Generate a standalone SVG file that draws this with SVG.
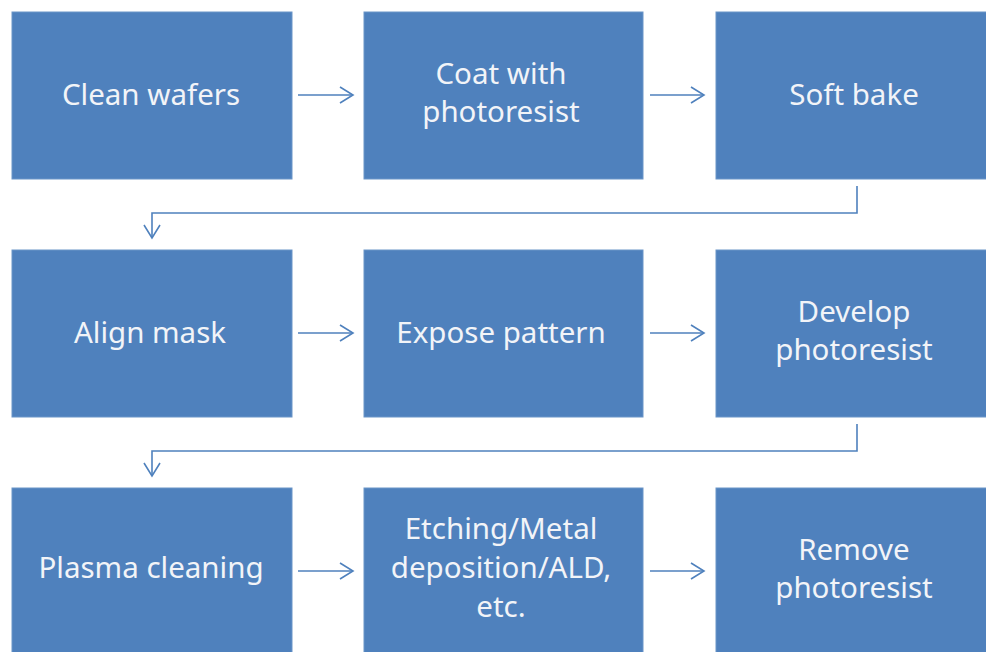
<svg xmlns="http://www.w3.org/2000/svg" width="986" height="652" viewBox="0 0 986 652">
<defs>
<style>
.box{fill:#4F81BD;stroke:#6B95C8;stroke-width:1}
.t{font-family:"Noto Sans","Open Sans",sans-serif;font-size:29.5px;fill:#F2F4F8;text-anchor:middle}
.c{fill:none;stroke:#4F81BD;stroke-width:1.6}
</style>
<marker id="ah" markerWidth="18" markerHeight="18" refX="14" refY="9" orient="auto" markerUnits="userSpaceOnUse">
<path d="M1,1 L14,9 L1,17" fill="none" stroke="#4F81BD" stroke-width="1.6"/>
</marker>
</defs>
<rect width="986" height="652" fill="#FFFFFF"/>
<g id="n1"><rect class="box" x="12" y="12" width="280" height="167"/><text class="t" x="151" y="105">Clean wafers</text></g>
<g id="n2"><rect class="box" x="364" y="12" width="279" height="167"/><text class="t" x="501" y="84">Coat with</text><text class="t" x="501" y="122">photoresist</text></g>
<g id="n3"><rect class="box" x="716" y="12" width="280" height="167"/><text class="t" x="854" y="105">Soft bake</text></g>
<g id="n4"><rect class="box" x="12" y="250" width="280" height="167"/><text class="t" x="150" y="343">Align mask</text></g>
<g id="n5"><rect class="box" x="364" y="250" width="279" height="167"/><text class="t" x="501" y="343">Expose pattern</text></g>
<g id="n6"><rect class="box" x="716" y="250" width="280" height="167"/><text class="t" x="854" y="322">Develop</text><text class="t" x="854" y="360">photoresist</text></g>
<g id="n7"><rect class="box" x="12" y="488" width="280" height="170"/><text class="t" x="151" y="578">Plasma cleaning</text></g>
<g id="n8"><rect class="box" x="364" y="488" width="279" height="170"/><text class="t" x="501" y="539">Etching/Metal</text><text class="t" x="501" y="578">deposition/ALD,</text><text class="t" x="501" y="617">etc.</text></g>
<g id="n9"><rect class="box" x="716" y="488" width="280" height="170"/><text class="t" x="854" y="560">Remove</text><text class="t" x="854" y="598">photoresist</text></g>
<g id="connectors">
<path class="c" d="M298,95 H353" marker-end="url(#ah)"/>
<path class="c" d="M650,95 H704" marker-end="url(#ah)"/>
<path class="c" d="M298,333 H353" marker-end="url(#ah)"/>
<path class="c" d="M650,333 H704" marker-end="url(#ah)"/>
<path class="c" d="M298,571 H353" marker-end="url(#ah)"/>
<path class="c" d="M650,571 H704" marker-end="url(#ah)"/>
<path class="c" d="M857,186 V213 H152 V238" marker-end="url(#ah)"/>
<path class="c" d="M857,424 V451 H152 V476" marker-end="url(#ah)"/>
</g>
</svg>
